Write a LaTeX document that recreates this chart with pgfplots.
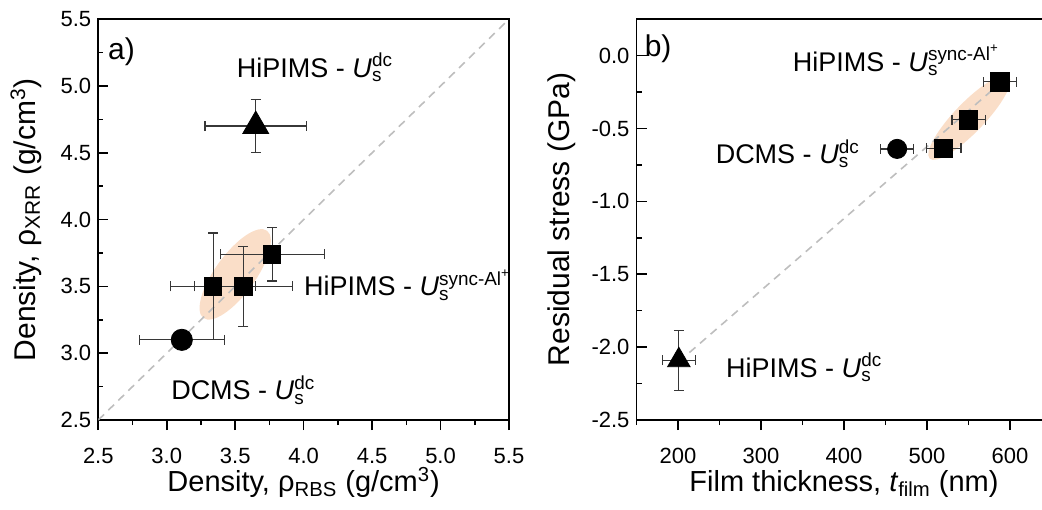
\documentclass[border=0pt]{standalone}
\usepackage{fontspec}
\setmainfont{Liberation Sans}
\usepackage{pgfplots}
\pgfplotsset{compat=1.18}
\usetikzlibrary{shapes.geometric}

\definecolor{peach}{RGB}{250,222,200}
\definecolor{fitgray}{RGB}{190,190,190}
\definecolor{errgray}{RGB}{55,55,55}

% U_s with a stacked superscript
\newcommand{\Us}[1]{\textit{U}\makebox[0pt][l]{\textsubscript{s}}\textsuperscript{#1}}

\tikzset{note/.style={font=\fontsize{13.5}{15}\selectfont, anchor=base west, inner sep=0pt}}

\pgfplotsset{
  panel/.style={
    scale only axis,
    height=200.4pt,
    axis line style={line width=0.8pt},
    xtick align=outside, ytick align=inside,
    xtick pos=left, ytick pos=left,
    major tick length=5pt, minor tick length=2.5pt,
    tick style={line width=0.8pt, black},
    /pgf/number format/assume math mode=true,
    tick label style={font=\fontsize{11}{13}\selectfont},
    xticklabel style={yshift=-5.5pt},
    xlabel style={font=\fontsize{14.5}{17}\selectfont},
    ylabel style={font=\fontsize{15}{17}\selectfont},
  },
  pts/.style={only marks, mark options={fill=black, draw=black},
    error bars/x dir=both, error bars/x explicit,
    error bars/y dir=both, error bars/y explicit,
    error bars/error bar style={line width=0.6pt, errgray},
    error bars/error mark options={rotate=90, line width=0.6pt, errgray, mark size=2.5pt}},
}

\begin{document}
\begin{tikzpicture}
\path[use as bounding box] (-49.15pt,-44.5pt) rectangle (471.85pt,210pt);

% (a) density
\begin{axis}[panel,
  at={(0pt,0pt)}, anchor=south west,
  width=205.35pt,
  xmin=2.5, xmax=5.5, ymin=2.5, ymax=5.5,
  xtick={2.5,3,...,5.5}, ytick={2.5,3,...,5.5},
  minor xtick={2.75,3.25,...,5.25}, minor ytick={2.75,3.25,...,5.25},
  xticklabel style={/pgf/number format/.cd, fixed, fixed zerofill, precision=1},
  yticklabel style={/pgf/number format/.cd, fixed, fixed zerofill, precision=1},
  xlabel={Density, ρ\textsubscript{RBS} (g/cm\textsuperscript{3})},
  ylabel={Density, ρ\textsubscript{XRR} (g/cm\textsuperscript{3})},
  xlabel style={at={(axis description cs:0.5,-0.179)}, anchor=base},
  ylabel style={at={(axis description cs:-0.176,0.5)}, anchor=center},
]
\node[ellipse, fill=peach, minimum width=54pt, minimum height=20pt,
  inner sep=0pt, rotate=54] at (axis cs:3.50,3.59) {};
\addplot[fitgray, line width=0.8pt, dash pattern=on 4pt off 3pt]
  coordinates {(2.5,2.5) (5.5,5.5)};
% HiPIMS - U_s^dc
\addplot[pts, mark=triangle*, mark size=7.5pt]
  coordinates {(3.65,4.70) +- (0.37,0.20)};
% HiPIMS - U_s^sync-Al+
\addplot[pts, mark=square*, mark size=4.3pt]
  coordinates {
    (3.34,3.50) +- (0.31,0.40)
    (3.56,3.50) +- (0.36,0.30)
    (3.77,3.74) +- (0.38,0.20)
  };
% DCMS - U_s^dc
\addplot[pts, mark=*, mark size=5.3pt]
  coordinates {(3.11,3.10) +- (0.31,0)};
\node[font=\fontsize{15}{17}\selectfont] at (axis cs:2.67,5.26) {a)};
\node[note] at (axis cs:3.51,5.066) {HiPIMS - \Us{dc}};
\node[note] at (axis cs:4.00,3.43) {HiPIMS - \Us{sync-Al\textsuperscript{+}}};
\node[note] at (axis cs:3.03,2.65) {DCMS - \Us{dc}};
\end{axis}

% (b) residual stress
\begin{axis}[panel,
  at={(269.1pt,0pt)}, anchor=south west,
  width=207.5pt,
  xmin=150, xmax=650, ymin=-2.5, ymax=0.25,
  xtick={200,300,...,600}, minor xtick={150,250,...,650},
  ytick={-2.5,-2,...,0}, minor ytick={-2.25,-1.75,...,0.25},
  yticklabel style={/pgf/number format/.cd, fixed, fixed zerofill, precision=1},
  xlabel={Film thickness, \textit{t}\textsubscript{film} (nm)},
  ylabel={Residual stress (GPa)},
  xlabel style={at={(axis description cs:0.5,-0.179)}, anchor=base},
  ylabel style={at={(axis description cs:-0.181,0.5)}, anchor=center},
]
\node[ellipse, fill=peach, minimum width=57pt, minimum height=15pt,
  inner sep=0pt, rotate=46] at (axis cs:551,-0.425) {};
\addplot[fitgray, line width=0.8pt, dash pattern=on 4pt off 3pt]
  coordinates {(201,-2.10) (588,-0.19)};
\addplot[pts, mark=triangle*, mark size=6.5pt]
  coordinates {(201,-2.09) +- (20,0.205)};
\addplot[pts, mark=square*, mark size=4.6pt]
  coordinates {
    (520,-0.635) +- (21,0)
    (550,-0.44) +- (20,0)
    (588,-0.18) +- (20,0)
  };
\addplot[pts, mark=*, mark size=4.8pt]
  coordinates {(464,-0.64) +- (20,0)};
\node[font=\fontsize{15}{17}\selectfont] at (axis cs:176,0.05) {b)};
\node[note] at (axis cs:338,-0.106) {HiPIMS - \Us{sync-Al\textsuperscript{+}}};
\node[note] at (axis cs:245,-0.741) {DCMS - \Us{dc}};
\node[note] at (axis cs:257.5,-2.205) {HiPIMS - \Us{dc}};
\end{axis}
\end{tikzpicture}
\end{document}
